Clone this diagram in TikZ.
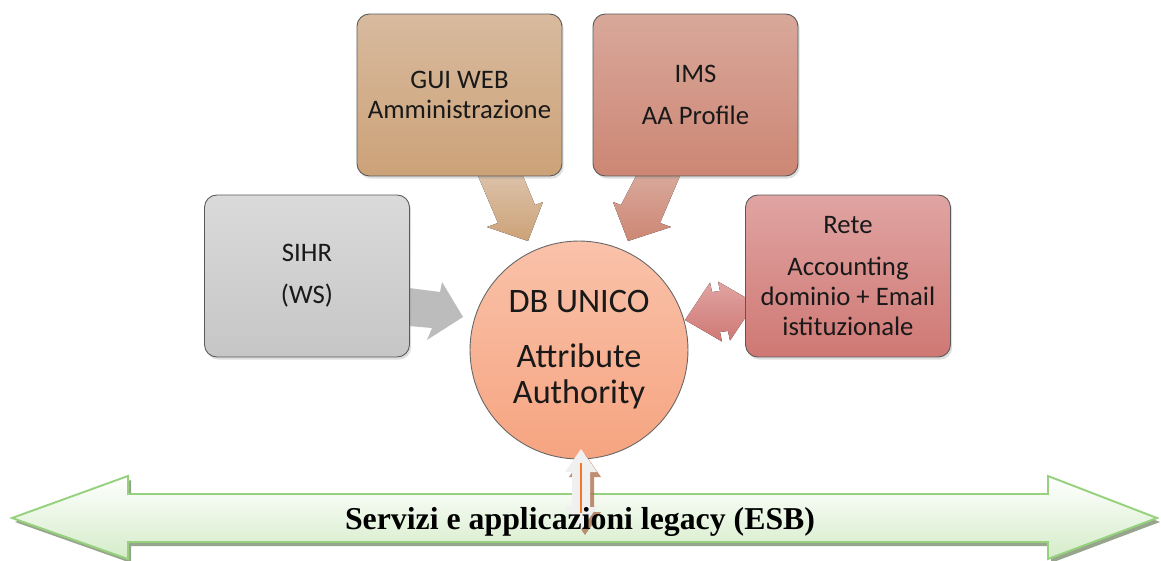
\documentclass[tikz,border=0pt]{standalone}
\usepackage{fontspec}
\setmainfont{Carlito}
\newfontfamily\esbfont{Liberation Serif}
\usetikzlibrary{shadows}
\definecolor{txt}{RGB}{25,25,25}
\definecolor{guiT}{RGB}{216,186,158}
\definecolor{guiB}{RGB}{204,162,120}
\definecolor{imsT}{RGB}{216,168,154}
\definecolor{imsB}{RGB}{205,134,116}
\definecolor{sihrT}{RGB}{218,218,218}
\definecolor{sihrB}{RGB}{198,198,198}
\definecolor{reteT}{RGB}{224,164,162}
\definecolor{reteB}{RGB}{207,120,116}
\definecolor{circT}{RGB}{249,194,170}
\definecolor{circB}{RGB}{246,164,128}
\definecolor{grnB}{RGB}{150,210,125}
\definecolor{grnF}{RGB}{212,236,200}
\definecolor{grnS}{RGB}{150,165,140}
\definecolor{vshad}{RGB}{175,115,80}
\definecolor{vline}{RGB}{240,120,40}
\begin{document}
\begin{tikzpicture}[x=0.02cm,y=-0.02cm,
  box/.style={draw=black!65,line width=0.5pt,rounded corners=7pt,minimum width=4.1cm,minimum height=3.24cm,
    align=center,text=txt,font=\fontsize{15.2}{17.2}\selectfont,
    drop shadow={shadow xshift=1pt,shadow yshift=-1.5pt,opacity=0.25}},
  blk/.style={draw=none},
]
\useasboundingbox (0,0) rectangle (1161,561);
% bottom ESB arrow
\fill[grnS] (15,522) -- (131,480) -- (131,498) -- (1051,498) -- (1051,480) -- (1160,522) -- (1051,563) -- (1051,546) -- (131,546) -- (131,563) -- cycle;
\draw[grnB,line width=1.1pt,top color=white,bottom color=grnF]
  (12,518) -- (128,476) -- (128,494) -- (1048,494) -- (1048,476) -- (1157,518) -- (1048,559) -- (1048,542) -- (128,542) -- (128,559) -- cycle;
% central circle
\node[circle,draw=black!60,line width=0.5pt,minimum size=4.36cm,top color=circT,bottom color=circB,
  align=center,text=txt,font=\fontsize{19.5}{20.5}\selectfont] (db) at (579,350)
  {DB UNICO\\[10.8pt]Attribute\\Authority};
% block arrows
\fill[top color=guiT!90!white,bottom color=guiB] (478,176) -- (498,223) -- (487,227) -- (528,241) -- (543,202) -- (535,205) -- (523,176) -- cycle;
\fill[top color=imsT,bottom color=imsB] (680,176) -- (660,223) -- (671,227) -- (628,241) -- (613,202) -- (621,205) -- (636,176) -- cycle;
\fill[sihrB!95!black] (409,288) -- (440,292) -- (442,282) -- (463,317) -- (427,340) -- (432,328) -- (409,326) -- cycle;
\fill[top color=reteT,bottom color=reteB] (685,320) -- (710,282.5) -- (712,292) -- (720,291) -- (718,281.5) -- (755,303) -- (730,340.5) -- (728,331) -- (720,332) -- (722,341.5) -- cycle;
% boxes
\node[box,top color=guiT,bottom color=guiB] (gui) at (459.5,95) {GUI WEB\\Amministrazione};
\node[box,top color=imsT,bottom color=imsB] (ims) at (695.5,95) {IMS\\[6.3pt]AA Profile};
\node[box,top color=sihrT,bottom color=sihrB] (sihr) at (307,276) {SIHR\\[6.8pt](WS)};
\node[box,top color=reteT,bottom color=reteB] (rete) at (848,276) {Rete\\[6.8pt]Accounting\\dominio + Email\\istituzionale};
% vertical double arrow
\fill[vshad,opacity=0.8] (585,454) -- (601,477) -- (594,477) -- (594,512) -- (601,512) -- (585,535) -- (569,512) -- (576,512) -- (576,477) -- (569,477) -- cycle;
\fill[white!94!black] (581,449) -- (597,472) -- (590,472) -- (590,507) -- (597,507) -- (581,530) -- (565,507) -- (572,507) -- (572,472) -- (565,472) -- cycle;
\draw[vline,line width=0.7pt] (581,463) -- (581,513);
% ESB label
\node[font=\esbfont\bfseries\fontsize{18.1}{20}\selectfont,text=black] (esb) at (580,522) {Servizi e applicazioni legacy (ESB)};
\end{tikzpicture}
\end{document}
